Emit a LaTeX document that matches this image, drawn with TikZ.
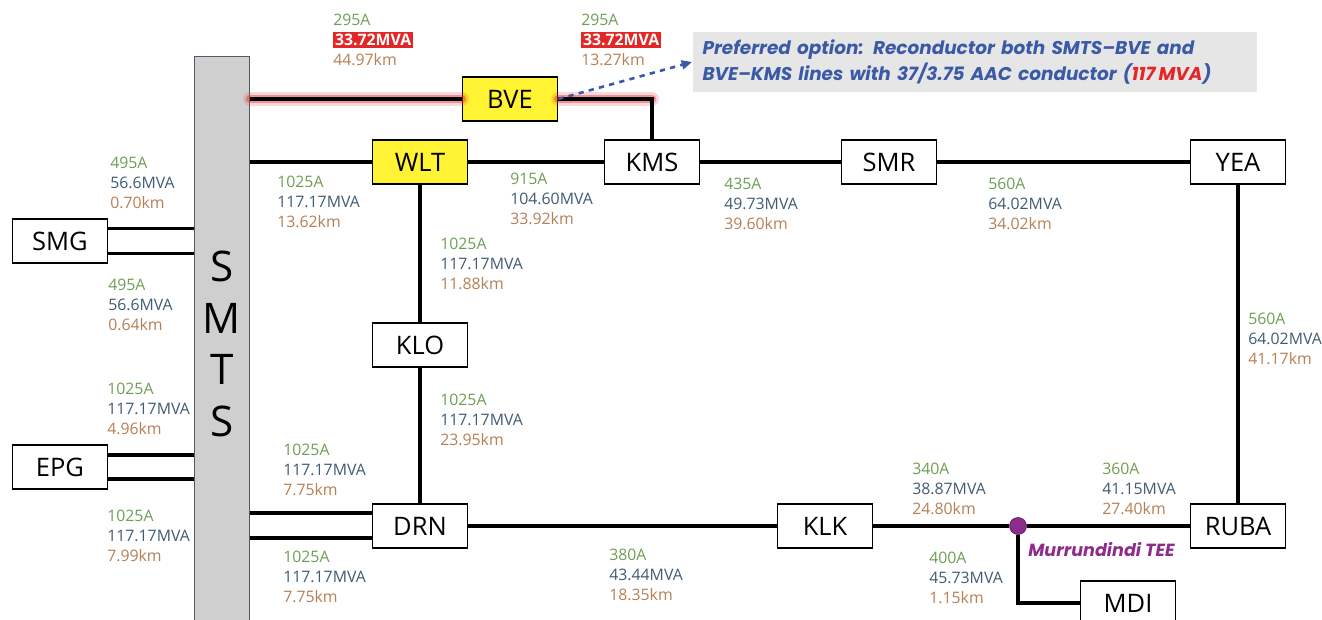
\documentclass[tikz,border=0pt]{standalone}
\usepackage{fontspec}
\setmainfont{Open Sans}
\newfontfamily\notefont{Poppins}[Ligatures=TeX]
\usetikzlibrary{arrows.meta}

\definecolor{ampgreen}{HTML}{6E9E55}
\definecolor{mvablue}{HTML}{3F5B74}
\definecolor{kmbrown}{HTML}{B67F55}
\definecolor{noteblue}{HTML}{3A5AA8}
\definecolor{overred}{HTML}{E32626}
\definecolor{notegray}{HTML}{E6E6E6}
\definecolor{teepurple}{HTML}{8E2C8E}
\definecolor{busgray}{HTML}{CFCFCF}
\definecolor{busedge}{HTML}{4D5B68}
\definecolor{subyellow}{HTML}{FFF333}

\newcommand{\flowlbl}[3]{\textcolor{ampgreen}{#1}\\\textcolor{mvablue}{#2}\\\textcolor{kmbrown}{#3}}
\newcommand{\overlbl}[3]{\textcolor{ampgreen}{#1}\\{\fboxsep=1pt\colorbox{overred}{\textcolor{white}{\bfseries #2}}}\\\textcolor{kmbrown}{#3}}

\begin{document}
\begin{tikzpicture}[x=0.02cm, y=-0.02cm,
    feeder/.style={line width=1.8pt},
    lbl/.style={anchor=north west, align=left, inner sep=0pt, font=\fontsize{9}{11.3}\selectfont}]
  \useasboundingbox (0,0) rectangle (1322,619);

  \node[draw=busedge, fill=busgray, line width=0.9pt, minimum width=1.1cm, minimum height=11.5cm,
        inner sep=0pt, align=center, font=\fontsize{24}{29.5}\selectfont] (smts) at (222,344) {S\\M\\T\\S};

  \begin{scope}[every node/.style={rectangle, draw, line width=0.9pt, fill=white, minimum width=1.9cm,
                minimum height=0.88cm, inner sep=0pt, font=\fontsize{14.5}{16}\selectfont}]
    \node[fill=subyellow] (bve) at (510,99) {BVE};
    \node[fill=subyellow] (wlt) at (420,162) {WLT};
    \node (kms) at (652,162) {KMS};
    \node (smr) at (889,162) {SMR};
    \node (yea) at (1238,162) {YEA};
    \node (klo) at (420,345) {KLO};
    \node (drn) at (420,526) {DRN};
    \node (klk) at (825,526) {KLK};
    \node (ruba) at (1238,526) {RUBA};
    \node (mdi) at (1128,603) {MDI};
    \node (smg) at (60,241) {SMG};
    \node (epg) at (60,467) {EPG};
  \end{scope}

  \node[circle, fill=teepurple, draw=teepurple!70!black, minimum size=0.34cm, inner sep=0pt] (tee) at (1018,526) {};
  \node[anchor=west, inner sep=0pt, text=teepurple, font=\notefont\bfseries\itshape\fontsize{10}{12}\selectfont]
    (teename) at (1028,550) {Murrundindi TEE};

  \node[fill=notegray, minimum width=11.3cm, minimum height=1.22cm, inner sep=0pt, text width=10.9cm, align=left,
        text=noteblue, font=\notefont\bfseries\itshape\fontsize{10.5}{15.3}\selectfont] (note) at (975,62)
    {Preferred option: Reconductor both SMTS--BVE and\\BVE--KMS lines with 37/3.75 AAC conductor (\textcolor{overred}{117\,MVA})};

  % overloaded line
  \begin{scope}[overred, line cap=round]
    \draw[line width=8pt, opacity=0.18] (smts.east |- bve) -- (bve.west) (bve.east) -- (kms.north |- bve);
    \draw[line width=5pt, opacity=0.4] (smts.east |- bve) -- (bve.west) (bve.east) -- (kms.north |- bve);
  \end{scope}
  \draw[feeder] (smts.east |- bve) -- (bve.west);
  \draw[feeder] (bve.east) -| (kms.north);
  \draw[noteblue, dashed, line width=1.5pt, -{Triangle[length=6pt, width=5pt]}] (bve.east) -- (note.west);

  \begin{scope}[feeder]
    \draw (smts.east |- wlt) -- (wlt);
    \draw (wlt) -- (kms);
    \draw (kms) -- (smr);
    \draw (smr) -- (yea);
    \draw (yea) -- (ruba);
    \draw (wlt) -- (klo);
    \draw (klo) -- (drn);
    \draw (drn) -- (klk);
    \draw (klk) -- (tee);
    \draw (tee) -- (ruba);
    \draw (tee) |- (mdi.west);
    \foreach \sub/\dy in {smg/0.25cm, smg/-0.25cm, epg/0.24cm, epg/-0.24cm} {
      \coordinate (end) at ([yshift=\dy]\sub.east);
      \draw (end) -- (end -| smts.west);
    }
    \foreach \dy in {0.26cm, -0.24cm} {
      \coordinate (end) at ([yshift=\dy]drn.west);
      \draw (end) -- (end -| smts.east);
    }
  \end{scope}

  \begin{scope}[every node/.style={lbl}]
    \node (fbve1) at (333,14) {\overlbl{295A}{33.72MVA}{44.97km}};
    \node (fbve2) at (581,14) {\overlbl{295A}{33.72MVA}{13.27km}};
    \node (fsmg1) at (110,157) {\flowlbl{495A}{56.6MVA}{0.70km}};
    \node (fsmg2) at (108,279) {\flowlbl{495A}{56.6MVA}{0.64km}};
    \node (fepg1) at (107,383) {\flowlbl{1025A}{117.17MVA}{4.96km}};
    \node (fepg2) at (107,510) {\flowlbl{1025A}{117.17MVA}{7.99km}};
    \node (fwlt) at (277,176) {\flowlbl{1025A}{117.17MVA}{13.62km}};
    \node (fklo) at (440,238) {\flowlbl{1025A}{117.17MVA}{11.88km}};
    \node (fdrn) at (440,394) {\flowlbl{1025A}{117.17MVA}{23.95km}};
    \node (fkms) at (510,173) {\flowlbl{915A}{104.60MVA}{33.92km}};
    \node (fsmr) at (724,178) {\flowlbl{435A}{49.73MVA}{39.60km}};
    \node (fyea) at (988,178) {\flowlbl{560A}{64.02MVA}{34.02km}};
    \node (fruba) at (1248,313) {\flowlbl{560A}{64.02MVA}{41.17km}};
    \node (fdrn1) at (283,444) {\flowlbl{1025A}{117.17MVA}{7.75km}};
    \node (fdrn2) at (283,551) {\flowlbl{1025A}{117.17MVA}{7.75km}};
    \node (fklk) at (609,549) {\flowlbl{380A}{43.44MVA}{18.35km}};
    \node (ftee) at (912,463) {\flowlbl{340A}{38.87MVA}{24.80km}};
    \node (ftee2) at (1102,463) {\flowlbl{360A}{41.15MVA}{27.40km}};
    \node (fmdi) at (929,552) {\flowlbl{400A}{45.73MVA}{1.15km}};
  \end{scope}
\end{tikzpicture}
\end{document}
